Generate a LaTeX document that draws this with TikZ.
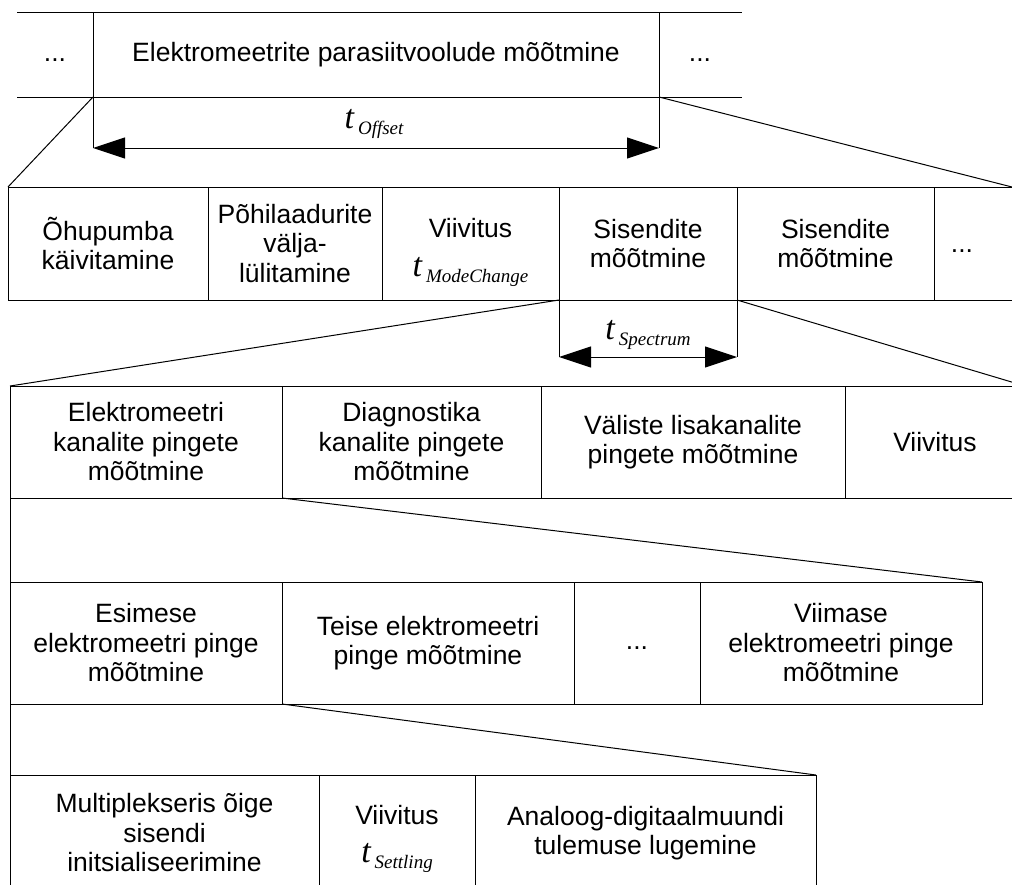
\documentclass[tikz,border=0pt]{standalone}
\usepackage{fontspec}
\setmainfont{Liberation Sans}
\newfontfamily\serifface{Liberation Serif}
\usetikzlibrary{arrows.meta}
% italic time symbol with a subscript name
\newcommand\tlabel[1]{{\serifface\itshape\fontsize{34}{34}\selectfont t\kern4pt\raisebox{-6pt}{\fontsize{19}{19}\selectfont #1}}}
% a delay cell: word above, time symbol below, set a little low
\newcommand\delaytext[2]{\raisebox{#2}[\height][\depth]{\begin{tabular}{@{}c@{}}Viivitus\\[9pt]\tlabel{#1}\end{tabular}}}
\begin{document}
\begin{tikzpicture}[x=1pt,y=-1pt,line width=1pt,
  every node/.style={font=\fontsize{26.5}{29.5}\selectfont},
  cell/.style={draw,rectangle,anchor=north west,inner sep=0pt,outer sep=0pt,
    align=center,minimum width=#1},
  rowA/.style={minimum height=85pt},
  rowB/.style={minimum height=113pt},
  rowC/.style={minimum height=112pt},
  rowD/.style={minimum height=122pt},
  rowE/.style={minimum height=116pt},
  dots/.style={text height=19pt,text depth=6pt},
  span/.style={{Triangle[length=32pt,width=21pt]}-{Triangle[length=32pt,width=21pt]}}]
\useasboundingbox (0,0) rectangle (1012,884);
\clip (0,0) rectangle (1012,884);

% ---- level 1: measurement cycle
\node[cell=566pt,rowA] (main) at (93,12) {Elektromeetrite parasiitvoolude mõõtmine};
\coordinate (r1tl) at (17,12);  \coordinate (r1tr) at (742,12);
\coordinate (r1bl) at (17,97);  \coordinate (r1br) at (742,97);
\draw (r1tl) -- (main.north west) (main.north east) -- (r1tr);
\draw (r1bl) -- (main.south west) (main.south east) -- (r1br);
\node[dots] (dotsA) at (55,54.5) {...};
\node[dots] (dotsB) at (700,54.5) {...};

% duration of the offset measurement
\coordinate (offL) at (93,148); \coordinate (offR) at (659,148);
\draw (main.south west) -- (offL) (main.south east) -- (offR);
\draw[span] (offL) -- (offR);
\node (toff) at (374,124) {\tlabel{Offset}};

% ---- level 2
\node[cell=200pt,rowB] (r2a) at (8,187) {Õhupumba\\käivitamine};
\node[cell=174pt,rowB] (r2b) at (r2a.north east) {Põhilaadurite\\välja-\\lülitamine};
\node[cell=177pt,rowB] (r2c) at (r2b.north east) {\delaytext{ModeChange}{-8pt}};
\node[cell=178pt,rowB] (r2d) at (r2c.north east) {Sisendite\\mõõtmine};
\node[cell=197pt,rowB] (r2e) at (r2d.north east) {Sisendite\\mõõtmine};
\coordinate (r2ne) at (1012,187); \coordinate (r2se) at (1012,300);
\draw (r2e.north east) -- (r2ne) (r2e.south east) -- (r2se);
\node[dots] (r2dots) at (962,246) {...};

\draw (main.south west) -- (r2a.north west);
\draw (main.south east) -- (r2ne);

% duration of one spectrum
\coordinate (spL) at (559,357); \coordinate (spR) at (737,357);
\draw (r2d.south west) -- (spL) (r2d.south east) -- (spR);
\draw[span] (spL) -- (spR);
\node (tspec) at (648,335) {\tlabel{Spectrum}};

% ---- level 3
\node[cell=272pt,rowC] (r3a) at (10,386) {Elektromeetri\\kanalite pingete\\mõõtmine};
\node[cell=259pt,rowC] (r3b) at (r3a.north east) {Diagnostika\\kanalite pingete\\mõõtmine};
\node[cell=304pt,rowC] (r3c) at (r3b.north east) {Väliste lisakanalite\\pingete mõõtmine};
\node[cell=180pt,rowC] (r3d) at (r3c.north east) {Viivitus};

\draw (r2d.south west) -- (r3a.north west);
\draw (r2d.south east) -- (r3d.north east);

% ---- level 4
\node[cell=272pt,rowD] (r4a) at (10,582) {Esimese\\elektromeetri pinge\\mõõtmine};
\node[cell=292pt,rowD] (r4b) at (r4a.north east) {Teise elektromeetri\\pinge mõõtmine};
\node[cell=126pt,rowD,dots] (r4c) at (r4b.north east) {...};
\node[cell=282pt,rowD] (r4d) at (r4c.north east) {Viimase\\elektromeetri pinge\\mõõtmine};

\draw (r3a.south west) -- (r4a.north west);
\draw (r3a.south east) -- (r4d.north east);

% ---- level 5
\node[cell=309pt,rowE] (r5a) at (10,775) {Multiplekseris õige\\sisendi\\initsialiseerimine};
\node[cell=156pt,rowE] (r5b) at (r5a.north east) {\delaytext{Settling}{-5pt}};
\node[cell=341pt,rowE] (r5c) at (r5b.north east) {Analoog-digitaalmuundi\\tulemuse lugemine};

\draw (r4a.south west) -- (r5a.north west);
\draw (r4a.south east) -- (r5c.north east);
\end{tikzpicture}
\end{document}
